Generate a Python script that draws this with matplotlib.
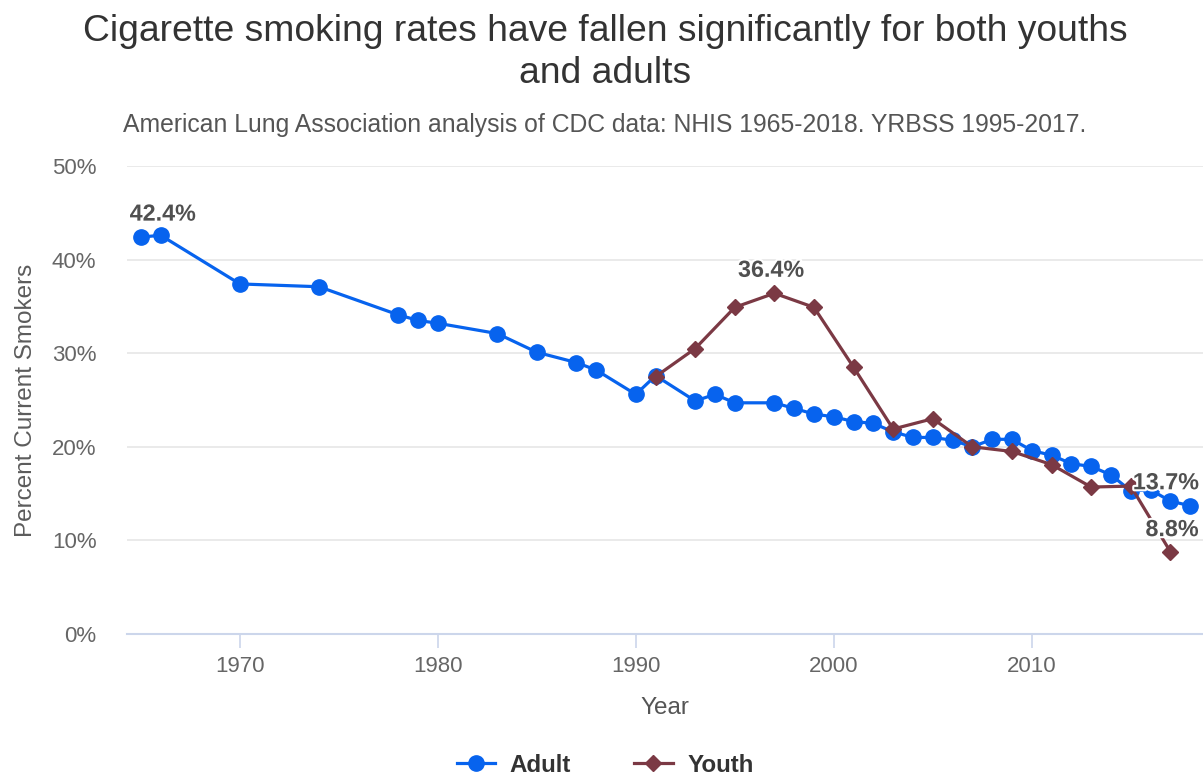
import matplotlib.pyplot as plt
import matplotlib.patheffects as pe

plt.rcParams['font.family'] = ['Liberation Sans', 'DejaVu Sans']

# NHIS adult smoking rates
adult_years = [1965, 1966, 1970, 1974, 1978, 1979, 1980, 1983, 1985, 1987, 1988,
               1990, 1991, 1993, 1994, 1995, 1997, 1998, 1999, 2000, 2001, 2002,
               2003, 2004, 2005, 2006, 2007, 2008, 2009, 2010, 2011, 2012, 2013,
               2014, 2015, 2016, 2017, 2018]
adult_rates = [42.4, 42.6, 37.4, 37.1, 34.1, 33.5, 33.2, 32.1, 30.1, 29.0, 28.2,
               25.6, 27.6, 24.9, 25.6, 24.7, 24.7, 24.1, 23.5, 23.2, 22.7, 22.5,
               21.6, 21.0, 21.0, 20.7, 20.0, 20.8, 20.8, 19.6, 19.1, 18.2, 17.9,
               17.0, 15.3, 15.4, 14.2, 13.7]

# YRBSS youth smoking rates
youth_years = [1991, 1993, 1995, 1997, 1999, 2001, 2003, 2005, 2007, 2009, 2011,
               2013, 2015, 2017]
youth_rates = [27.5, 30.5, 34.9, 36.4, 34.9, 28.5, 21.9, 23.0, 20.0, 19.5, 18.1,
               15.7, 15.8, 8.8]

y_ticks = [0, 10, 20, 30, 40, 50]
x_ticks = [1970, 1980, 1990, 2000, 2010]

adult_color = '#0763ee'
youth_color = '#7b3944'

fig = plt.figure(figsize=(12.03, 7.8), dpi=100)
ax = fig.add_axes([127 / 1203, 146 / 780, 1 - 127 / 1203, 468 / 780])

ax.plot(adult_years, adult_rates, color=adult_color, lw=2.3, marker='o', ms=11,
        label='Adult', clip_on=False, zorder=3)
ax.plot(youth_years, youth_rates, color=youth_color, lw=2.3, marker='D', ms=8,
        label='Youth', clip_on=False, zorder=4)

ax.set_xlim(1964.3, 2018.65)
ax.set_ylim(0, 50)
ax.set_yticks(y_ticks)
ax.set_yticklabels([f'{v}%' for v in y_ticks])
ax.set_xticks(x_ticks)

ax.grid(axis='y', color='#e6e6e6', lw=1.2)
ax.set_axisbelow(True)
for side in ['top', 'right', 'left']:
    ax.spines[side].set_visible(False)
ax.spines['bottom'].set_color('#ccd6eb')
ax.spines['bottom'].set_linewidth(1.5)
ax.spines['bottom'].set_zorder(1)

ax.tick_params(axis='x', colors='#ccd6eb', length=10, width=1.2, pad=6,
               labelcolor='#666666', labelsize=16)
ax.tick_params(axis='y', length=0, pad=22, labelcolor='#666666', labelsize=16)

ax.set_xlabel('Year', fontsize=17.5, color='#555555', labelpad=14)
ax.set_ylabel('Percent Current Smokers', fontsize=17.5, color='#5c5c5c', labelpad=11)

# value labels on selected points
stroke = [pe.withStroke(linewidth=3, foreground='white')]
labels = [
    (adult_years[0], adult_rates[0], 22, 23),
    (youth_years[3], youth_rates[3], -3, 23),
    (adult_years[-1], adult_rates[-1], -24, 23),
    (youth_years[-1], youth_rates[-1], 2, 22),
]
for x, y, dx, dy in labels:
    ax.annotate(f'{y}%', (x, y), xytext=(dx, dy), textcoords='offset pixels',
                ha='center', va='center', fontsize=16.8, fontweight='bold',
                color='#505050', path_effects=stroke, zorder=6,
                annotation_clip=False)

fig.text(0.503, 0.933, 'Cigarette smoking rates have fallen significantly for both youths\nand adults',
         ha='center', va='center', fontsize=26.8, color='#333333', linespacing=1.25)
fig.text(0.503, 0.84, 'American Lung Association analysis of CDC data: NHIS 1965-2018. YRBSS 1995-2017.',
         ha='center', va='center', fontsize=17.8, color='#555555')

handles, names = ax.get_legend_handles_labels()
fig.legend(handles, names, loc='center', bbox_to_anchor=(0.503, 0.019), ncol=2,
           frameon=False, prop={'size': 17.4, 'weight': 'bold'}, labelcolor='#333333',
           handlelength=1.6, columnspacing=2.6, handletextpad=0.6)

fig.savefig('out.png', dpi=100)
